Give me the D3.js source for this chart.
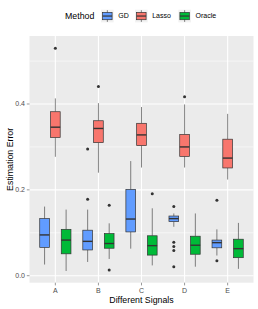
<!DOCTYPE html>
<html><head><meta charset="utf-8">
<script src="https://cdn.jsdelivr.net/npm/d3@7"></script>
<style>body{margin:0;background:#fff}svg{display:block;font-family:"Liberation Sans",Arial,sans-serif}</style>
</head><body><svg id="c" width="258" height="309"></svg>
<script>
const categories = ["A","B","C","D","E"];
const methods = ["GD","Lasso","Oracle"];
const colors = ["#619CFF","#F8766D","#00BA38"];
// [lower whisker, q1, median, q3, upper whisker] per category
const gdStats = [
  [0.026,0.066,0.095,0.133,0.161],
  [0.032,0.060,0.080,0.106,0.154],
  [0.063,0.102,0.132,0.201,0.267],
  [0.114,0.126,0.133,0.139,0.145],
  [0.047,0.065,0.077,0.083,0.108]
];
const lassoStats = [
  [0.277,0.322,0.346,0.382,0.413],
  [0.240,0.310,0.343,0.361,0.402],
  [0.252,0.303,0.328,0.355,0.393],
  [0.252,0.278,0.300,0.329,0.399],
  [0.224,0.251,0.274,0.318,0.377]
];
const oracleStats = [
  [0.011,0.051,0.083,0.108,0.154],
  [0.039,0.064,0.075,0.098,0.122],
  [0.024,0.048,0.070,0.093,0.157],
  [0.021,0.050,0.071,0.092,0.145],
  [0.016,0.042,0.063,0.085,0.123]
];
const gdOutliers = [[],[0.178,0.295],[],[0.161,0.078,0.068,0.059,0.021],[0.176,0.035]];
const lassoOutliers = [[0.530],[0.441],[],[0.417],[]];
const oracleOutliers = [[],[0.164,0.013],[0.191],[],[]];
const yTicks = [0.0,0.2,0.4];
const yMinor = [0.1,0.3,0.5];

const stats = [gdStats, lassoStats, oracleStats];
const outliers = [gdOutliers, lassoOutliers, oracleOutliers];

const svg = d3.select("#c");
const L=29.5, R=253.5, T=36, B=282.7;
const x = d3.scalePoint().domain(categories).range([L,R]).padding(0.6);
const y = d3.scaleLinear().domain([-0.0163,0.5584]).range([B,T]);
const step = x.step();
const dodge = step*0.25, bw = step*0.225;

svg.append("rect").attr("x",L).attr("y",T).attr("width",R-L).attr("height",B-T).attr("fill","#EBEBEB");
const g = svg.append("g");
yMinor.forEach(v=>g.append("line").attr("x1",L).attr("x2",R).attr("y1",y(v)).attr("y2",y(v)).attr("stroke","#fff").attr("stroke-width",0.55));
yTicks.forEach(v=>g.append("line").attr("x1",L).attr("x2",R).attr("y1",y(v)).attr("y2",y(v)).attr("stroke","#fff").attr("stroke-width",1.1));
categories.forEach(c=>g.append("line").attr("x1",x(c)).attr("x2",x(c)).attr("y1",T).attr("y2",B).attr("stroke","#fff").attr("stroke-width",1.1));

methods.forEach((m,mi)=>{
  categories.forEach((c,ci)=>{
    const s = stats[mi][ci];
    const cx = x(c) + (mi-1)*dodge;
    g.append("line").attr("x1",cx).attr("x2",cx).attr("y1",y(s[3])).attr("y2",y(s[4])).attr("stroke","#333").attr("stroke-width",0.6);
    g.append("line").attr("x1",cx).attr("x2",cx).attr("y1",y(s[1])).attr("y2",y(s[0])).attr("stroke","#333").attr("stroke-width",0.6);
    g.append("rect").attr("x",cx-bw/2).attr("y",y(s[3])).attr("width",bw).attr("height",y(s[1])-y(s[3]))
      .attr("fill",colors[mi]).attr("stroke","#333").attr("stroke-width",0.7);
    g.append("line").attr("x1",cx-bw/2).attr("x2",cx+bw/2).attr("y1",y(s[2])).attr("y2",y(s[2])).attr("stroke","#333").attr("stroke-width",1.4);
    outliers[mi][ci].forEach(v=>g.append("circle").attr("cx",cx).attr("cy",y(v)).attr("r",1.5).attr("fill","#333"));
  });
});

// axes
const ax = svg.append("g");
yTicks.forEach(v=>{
  ax.append("line").attr("x1",L-2.7).attr("x2",L).attr("y1",y(v)).attr("y2",y(v)).attr("stroke","#333").attr("stroke-width",0.5);
  ax.append("text").attr("x",L-4.5).attr("y",y(v)).attr("dy","0.35em").attr("text-anchor","end")
    .attr("font-size",7).attr("fill","#4D4D4D").text(d3.format(".1f")(v));
});
categories.forEach(c=>{
  ax.append("line").attr("x1",x(c)).attr("x2",x(c)).attr("y1",B).attr("y2",B+2.7).attr("stroke","#333").attr("stroke-width",0.5);
  ax.append("text").attr("x",x(c)).attr("y",B+10.5).attr("text-anchor","middle")
    .attr("font-size",7).attr("fill","#4D4D4D").text(c);
});
svg.append("text").attr("x",(L+R)/2).attr("y",303).attr("text-anchor","middle").attr("font-size",8.8).attr("fill","#000").text("Different Signals");
svg.append("text").attr("transform",`translate(13,${(T+B)/2}) rotate(-90)`).attr("text-anchor","middle").attr("font-size",8.8).attr("fill","#000").text("Estimation Error");

// legend
const lg = svg.append("g");
lg.append("text").attr("x",65).attr("y",16).attr("dy","0.35em").attr("font-size",8.8).attr("fill","#000").text("Method");
const keyX = [101,135,178.3];
methods.forEach((m,mi)=>{
  const kx = keyX[mi], ky = 9.7, ks = 12.7;
  lg.append("rect").attr("x",kx).attr("y",ky).attr("width",ks).attr("height",ks).attr("fill","#F2F2F2");
  lg.append("line").attr("x1",kx+ks/2).attr("x2",kx+ks/2).attr("y1",ky+0.5).attr("y2",ky+ks-0.5).attr("stroke","#333").attr("stroke-width",0.6);
  lg.append("rect").attr("x",kx+1.6).attr("y",ky+2.7).attr("width",ks-3.2).attr("height",ks-5.4).attr("fill",colors[mi]).attr("stroke","#333").attr("stroke-width",0.7);
  lg.append("line").attr("x1",kx+1.6).attr("x2",kx+ks-1.6).attr("y1",ky+ks/2).attr("y2",ky+ks/2).attr("stroke","#333").attr("stroke-width",1.2);
  lg.append("text").attr("x",kx+ks+4.5).attr("y",16).attr("dy","0.35em").attr("font-size",7).attr("fill","#000").text(m);
});
</script></body></html>
